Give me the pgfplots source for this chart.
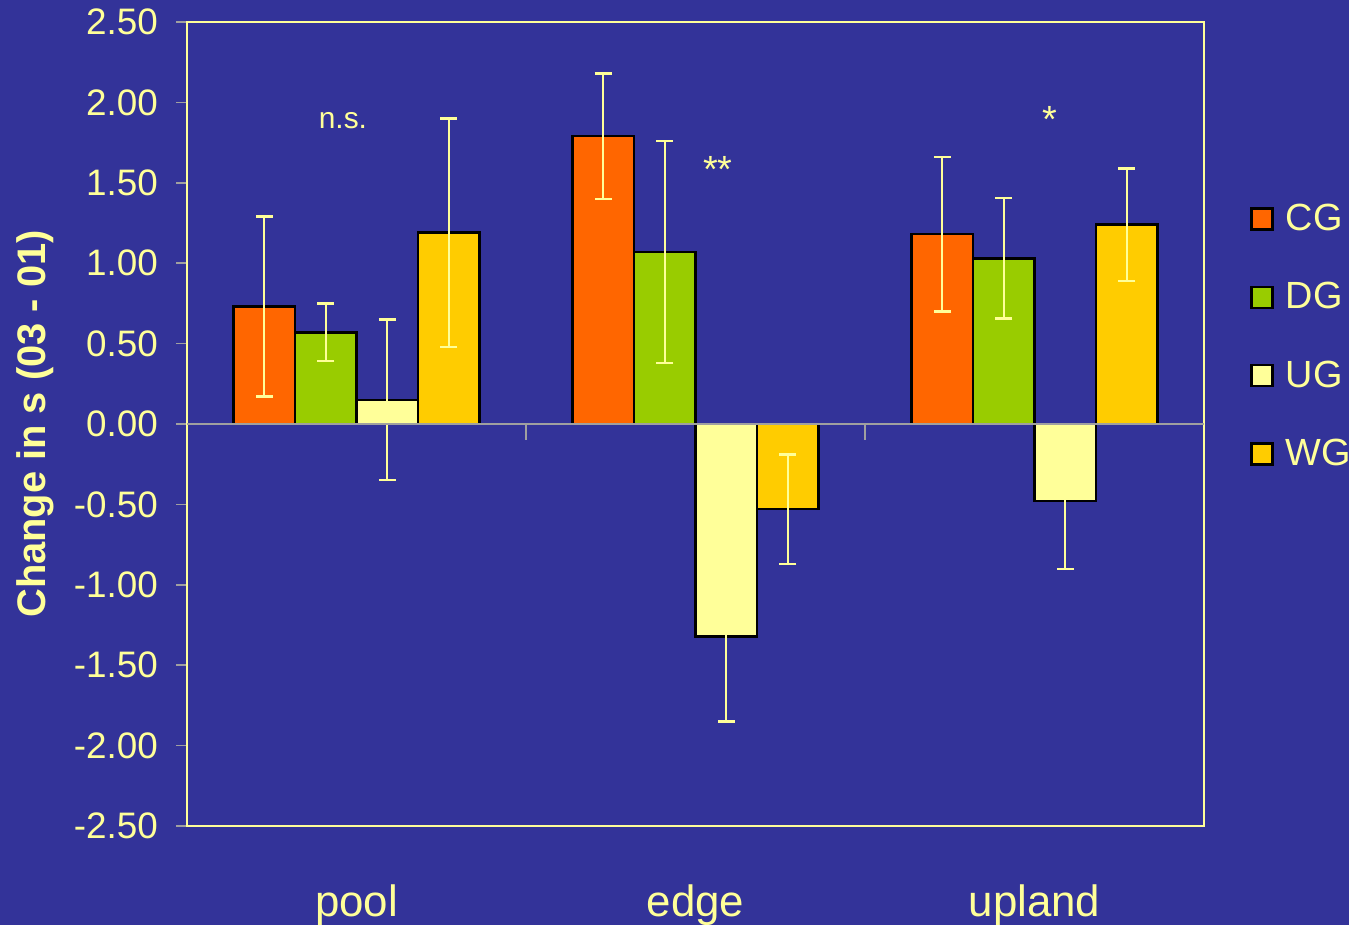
\documentclass[border=0pt]{standalone}
\usepackage{fontspec}
\setmainfont{Liberation Sans}
\usepackage{pgfplots}
\usepackage{pgfplotstable}
\pgfplotsset{compat=1.18}
\definecolor{bg}{HTML}{333399}
\definecolor{fy}{HTML}{FFFF99}
\definecolor{cgc}{HTML}{FF6600}
\definecolor{dgc}{HTML}{99CC00}
\definecolor{ugc}{HTML}{FFFF99}
\definecolor{wgc}{HTML}{FFCC00}
\definecolor{tgray}{HTML}{A0A0A0}

\pgfplotstableread{
x y e
0 0.73 0.56
1 1.79 0.39
2 1.18 0.48
}\CG
\pgfplotstableread{
x y e
0 0.57 0.18
1 1.07 0.69
2 1.03 0.375
}\DG
\pgfplotstableread{
x y e
0 0.15 0.50
1 -1.32 0.53
2 -0.48 0.42
}\UG
\pgfplotstableread{
x y e
0 1.19 0.71
1 -0.53 0.34
2 1.24 0.35
}\WG

\begin{document}
\begin{tikzpicture}
\path[use as bounding box] (0,0) rectangle (1349bp,925bp);
\fill[bg] (0,0) rectangle (1349bp,925bp);
\begin{axis}[
  at={(187bp,99bp)}, anchor=south west,
  scale only axis, width=1017bp, height=804bp,
  xmin=-0.5, xmax=2.5, ymin=-2.5, ymax=2.5,
  ybar=0pt, bar width=61.5bp,
  axis line style={draw=fy, line width=2bp},
  xtick=\empty,
  extra x ticks={0,1,2}, extra x tick labels={pool,edge,upland},
  extra x tick style={major tick length=0pt, tick style={draw=none},
    xticklabel style={font=\fontsize{44}{44}\selectfont, text=fy, anchor=base, yshift=-90bp}},
  ytick={-2.5,-2,...,2.5},
  ytick pos=left, ytick align=outside, major tick length=11bp,
  tick style={draw=tgray, line width=1.5bp},
  yticklabel style={font=\fontsize{37}{37}\selectfont, text=fy, anchor=east, inner sep=0pt, xshift=-18bp,
    /pgf/number format/.cd, fixed, fixed zerofill, precision=2, assume math mode=true},
  ylabel={Change in s (03 - 01)},
  every axis y label/.style={at={(axis description cs:-0.1495,0.5)}, rotate=90, anchor=center,
    font=\bfseries\fontsize{40}{40}\selectfont, text=fy},
  error bars/y dir=both, error bars/y explicit,
  error bars/error bar style={draw=fy, line width=2.4bp},
  error bars/error mark options={rotate=90, mark size=8.5bp, draw=fy, line width=2.4bp},
  legend style={at={(axis description cs:1.0452,0.7757)}, anchor=north west, draw=none, fill=none,
    font=\fontsize{38}{38}\selectfont, text=fy, row sep=50bp, column sep=12bp, inner sep=0pt,
    nodes={inner sep=0pt, text height=28bp, text depth=0bp}},
  legend cell align=left,
  legend image code/.code={\draw[#1, draw=black, line width=2.5bp] (0bp,-13bp) rectangle (21bp,8bp);},
]
\addplot[fill=cgc, draw=black, line width=2.5bp] table[x=x, y=y, y error=e] {\CG};
\addplot[fill=dgc, draw=black, line width=2.5bp] table[x=x, y=y, y error=e] {\DG};
\addplot[fill=ugc, draw=black, line width=2.5bp] table[x=x, y=y, y error=e] {\UG};
\addplot[fill=wgc, draw=black, line width=2.5bp] table[x=x, y=y, y error=e] {\WG};
\legend{CG,DG,UG,WG}
\draw[tgray, line width=1.5bp] (axis cs:-0.5,0) -- (axis cs:2.5,0);
\draw[tgray, line width=1.5bp] (axis cs:0.5,0) -- ([yshift=-16bp]axis cs:0.5,0);
\draw[tgray, line width=1.5bp] (axis cs:1.5,0) -- ([yshift=-16bp]axis cs:1.5,0);
\node[text=fy, font=\fontsize{30}{30}\selectfont, anchor=base] at (axis cs:-0.04,1.84) {n.s.};
\node[text=fy, font=\fontsize{38}{38}\selectfont, anchor=base] at (axis cs:1.066,1.50) {**};
\node[text=fy, font=\fontsize{38}{38}\selectfont, anchor=base] at (axis cs:2.046,1.81) {*};
\end{axis}
\end{tikzpicture}
\end{document}
